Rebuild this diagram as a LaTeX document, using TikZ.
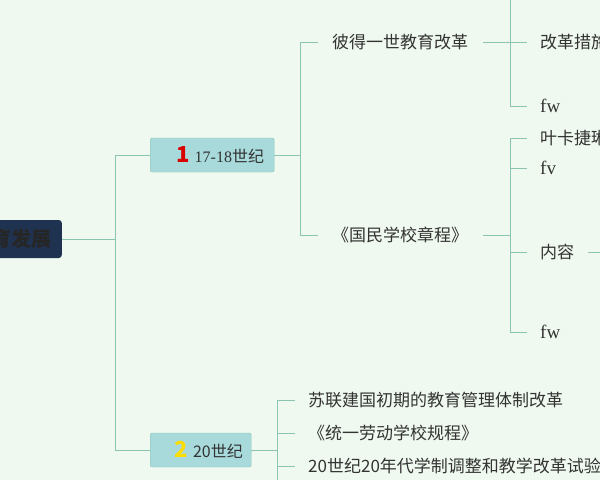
\documentclass[tikz,border=0pt]{standalone}
\usepackage{fontspec}
\setmainfont{Noto Sans CJK SC}
\newfontfamily\numfont{Liberation Serif}
\usetikzlibrary{positioning}
\definecolor{bgGreen}{HTML}{EFF9EF}
\definecolor{lineTeal}{HTML}{8CC4B4}
\definecolor{boxTeal}{HTML}{A8DADC}
\definecolor{rootNavy}{HTML}{1F3350}
\definecolor{txtGray}{HTML}{333333}
\tikzset{
	topic/.style={draw=lineTeal, fill=boxTeal, rounded corners=2pt, minimum height=34pt, anchor=west, font=\fontsize{16}{16}\selectfont, text=txtGray, inner sep=0pt},
	leaf/.style={anchor=west, font=\fontsize{17}{17}\selectfont, text=txtGray, inner sep=0pt},
	link/.style={lineTeal, line width=1pt}
}

\begin{document}
\begin{tikzpicture}[x=1pt, y=-1pt]
	\useasboundingbox (0,0) rectangle (600,480);
	\clip (0,0) rectangle (600,480);
	\fill[bgGreen] (0,0) rectangle (600,480);
	
	% root and main topics
	\node[fill=rootNavy, rounded corners=3pt, anchor=east, minimum height=38pt, inner xsep=10pt, text=black!85, font=\fontsize{20}{20}\selectfont\bfseries] (root) at (62,239) {教育发展};
	\node[topic, minimum width=124pt] (t1) at (150,155) {\hspace{16pt}{\color{red!85!black}\fontsize{22}{22}\selectfont\bfseries 1}\hspace{5pt}{\numfont 17-18}世纪\hspace{10pt}};
	\node[topic, minimum width=101pt] (t2) at (150,450) {\hspace{16pt}{\color{yellow!80!orange}\fontsize{22}{22}\selectfont\bfseries 2}\hspace{5pt}20世纪\hspace{10pt}};
	
	\draw[link] (root.east) -- (115,239);
	\draw[link] (115,155) -- (t1.west);
	\draw[link] (115,155) -- (115,450) -- (t2.west);
	
	% 17-18 century
	\node[leaf] (peter) at (332,42) {彼得一世教育改革};
	\node[leaf] (charter) at (332,235) {《国民学校章程》};
	\draw[link] (t1.east) -- (300,155);
	\draw[link] (318,42) -- (300,42) -- (300,235) -- (318,235);
	
	\node[leaf] (measure) at (540,42) {改革措施};
	\node[leaf, font=\numfont\fontsize{19}{19}\selectfont] (fwA) at (540,106) {fw};
	\draw[link] (483,42) -- (527,42);
	\draw[link] (510,0) -- (510,106) -- (527,106);
	
	\node[leaf] (ekat) at (540,138) {叶卡捷琳娜二世};
	\node[leaf, font=\numfont\fontsize{19}{19}\selectfont] (fv) at (540,168) {fv};
	\node[leaf] (content) at (540,252) {内容};
	\node[leaf, font=\numfont\fontsize{19}{19}\selectfont] (fwB) at (540,332) {fw};
	\draw[link] (483,235) -- (510,235);
	\draw[link] (527,138) -- (510,138) -- (510,332) -- (527,332);
	\foreach \y in {168,252} {
		\draw[link] (510,\y) -- (527,\y);
	}
	\draw[link] (588,252) -- (600,252);
	
	% 20th century
	\node[leaf] (soviet) at (308,400) {苏联建国初期的教育管理体制改革};
	\node[leaf] (rules) at (308,433) {《统一劳动学校规程》};
	\node[leaf] (trial) at (308,466) {20世纪20年代学制调整和教学改革试验};
	\draw[link] (t2.east) -- (277,450);
	\draw[link] (295,400) -- (277,400) -- (277,480);
	\foreach \y in {433,466} {
		\draw[link] (277,\y) -- (295,\y);
	}
\end{tikzpicture}
\end{document}
